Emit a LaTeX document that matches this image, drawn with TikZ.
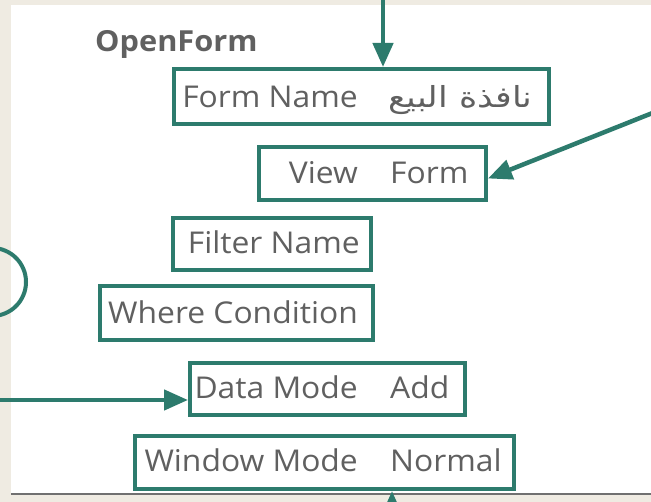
\documentclass[tikz,border=0pt]{standalone}
\usepackage{fontspec}
\setmainfont{Open Sans}[FakeStretch=1.06]
\newfontfamily\arabicfont[Script=Arabic,FakeStretch=1.2]{DejaVu Sans}
\TeXXeTstate=1
\usetikzlibrary{arrows.meta}
\definecolor{tealc}{HTML}{2D7B6D}
\definecolor{beigec}{HTML}{EFEBE2}
\definecolor{txtc}{HTML}{606060}
\definecolor{shadowc}{HTML}{707070}
\begin{document}
\begin{tikzpicture}[x=1pt,y=-1pt,
  box/.style={draw=tealc,line width=4pt,fill=none,inner sep=0pt},
  lbl/.style={text=txtc,font=\fontsize{30}{35}\selectfont,inner sep=0pt,anchor=base east},
  val/.style={text=txtc,font=\fontsize{30}{35}\selectfont,inner sep=0pt,anchor=base west},
  conn/.style={draw=tealc,line width=4.5pt,-{Triangle[length=24pt,width=20pt]}},
  ring/.style={draw=tealc,line width=4pt}]
\clip (0,0) rectangle (651,502);
\fill[beigec] (0,0) rectangle (651,502);
\fill[white] (11,5) rectangle (651,493);
\draw[shadowc,line width=2.5pt] (11,494) -- (651,494);

% title
\node[text=txtc,font=\bfseries\fontsize{29}{34}\selectfont,inner sep=0pt,anchor=base west] (title) at (95,52) {OpenForm};

% boxes
\node[box,minimum width=375pt,minimum height=55pt] (b1) at (361.5,96.5) {};
\node[box,minimum width=227pt,minimum height=53pt] (b2) at (372.5,173.5) {};
\node[box,minimum width=198pt,minimum height=52pt] (b3) at (272,244) {};
\node[box,minimum width=273pt,minimum height=54pt] (b4) at (236.5,313) {};
\node[box,minimum width=275pt,minimum height=52pt] (b5) at (327.5,389) {};
\node[box,minimum width=379pt,minimum height=53pt] (b6) at (324.5,462.5) {};

% texts
\node[lbl] (l1) at (358,108) {Form Name};
\node[val] (v1) at (388,108) {\fontsize{29}{34}\selectfont\arabicfont\beginR نافذة البيع\endR};
\node[lbl] (l2) at (358,184) {View};
\node[val] (v2) at (390,184) {Form};
\node[lbl] (l3) at (360,254) {Filter Name};
\node[lbl] (l4) at (358,324) {Where Condition};
\node[lbl] (l5) at (358,399) {Data Mode};
\node[val] (v5) at (390,399) {Add};
\node[lbl] (l6) at (358,472) {Window Mode};
\node[val] (v6) at (390,472) {Normal};

% connectors
\coordinate (topc) at (383,-5);
\draw[conn] (topc) -- (topc |- b1.north);
\coordinate (rc) at (660,110);
\draw[conn] (rc) -- ([yshift=-5pt]b2.east);
\coordinate (lc) at (-5,400);
\draw[conn] (lc) -- (lc -| b5.west);
\coordinate (bc) at (392,530);
\draw[conn] (bc) -- (bc |- b6.south);

% partial circle at left
\draw[ring] (-8,282) circle (34pt);
\end{tikzpicture}
\end{document}
